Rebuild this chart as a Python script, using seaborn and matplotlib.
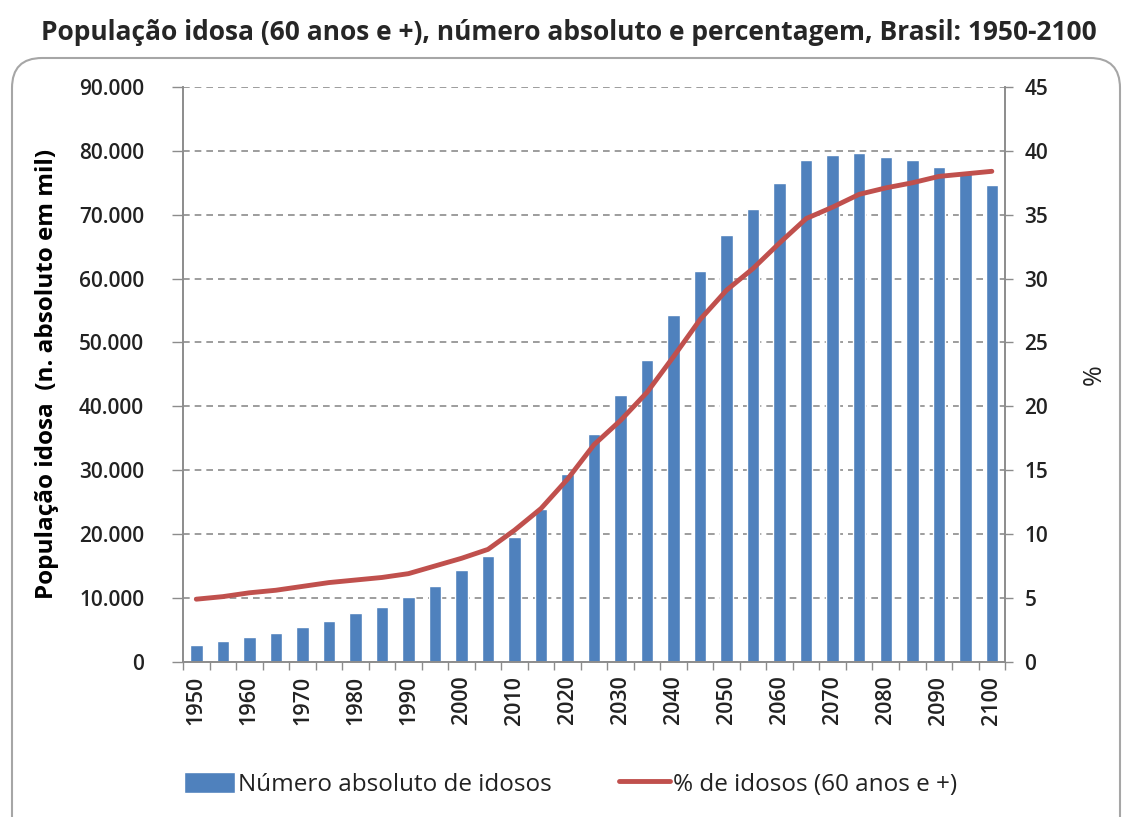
import matplotlib
matplotlib.use("Agg")
import matplotlib.pyplot as plt
from matplotlib.patches import FancyBboxPatch
from matplotlib.ticker import FuncFormatter, MultipleLocator
import seaborn as sns
import pandas as pd
import numpy as np

# dados (população idosa em mil e % de idosos)
anos = [1950, 1955, 1960, 1965, 1970, 1975, 1980, 1985, 1990, 1995,
        2000, 2005, 2010, 2015, 2020, 2025, 2030, 2035, 2040, 2045,
        2050, 2055, 2060, 2065, 2070, 2075, 2080, 2085, 2090, 2095, 2100]
idosos_mil = [2600, 3300, 3900, 4500, 5500, 6400, 7700, 8600, 10200, 11800,
              14300, 16500, 19600, 24000, 29400, 35600, 41700, 47300, 54300, 61200,
              66800, 70900, 75000, 78500, 79400, 79700, 79100, 78500, 77500, 76600, 74700]
pct_idosos = [4.9, 5.1, 5.4, 5.6, 5.9, 6.2, 6.4, 6.6, 6.9, 7.5,
              8.1, 8.8, 10.3, 12.0, 14.3, 17.0, 18.9, 21.1, 23.9, 26.8,
              29.1, 30.8, 32.8, 34.7, 35.6, 36.6, 37.1, 37.5, 38.0, 38.2, 38.4]

titulo = "População idosa (60 anos e +), número absoluto e percentagem, Brasil: 1950-2100"
label_barras = "Número absoluto de idosos"
label_linha = "% de idosos (60 anos e +)"

df = pd.DataFrame({"ano": [str(a) for a in anos], "idosos": idosos_mil,
                   "pct": pct_idosos, "pos": np.arange(len(anos))})

sns.set_theme(style="white")
plt.rcParams["font.family"] = ["Open Sans", "DejaVu Sans"]
cor_texto = "#222222"
cor_eixo = "#8c8c8c"

fig = plt.figure(figsize=(11.23, 8.17), dpi=100)
ax = fig.add_axes([0.163, 0.190, 0.732, 0.7035])

sns.barplot(data=df, x="ano", y="idosos", color="#4F81BD", width=0.47,
            saturation=1, ax=ax, label=label_barras)

ax2 = ax.twinx()
sns.lineplot(data=df, x="pos", y="pct", color="#C0504D", linewidth=3.5,
             ax=ax2, label=label_linha)

# eixos
ax.set_ylim(0, 90000)
ax2.set_ylim(0, 45)
ax.set_xlim(-0.5, len(anos) - 0.5)
ax.yaxis.set_major_locator(MultipleLocator(10000))
ax2.yaxis.set_major_locator(MultipleLocator(5))
ax.yaxis.set_major_formatter(FuncFormatter(lambda v, p: f"{int(v):,}".replace(",", ".")))

ax.set_xticks(range(0, len(anos), 2))
ax.set_xticklabels([str(a) for a in anos[::2]], rotation=90)
ax.set_xticks(np.arange(-0.5, len(anos), 1), minor=True)
ax.tick_params(axis="x", which="major", length=0, pad=10, labelsize=15.5, labelcolor=cor_texto)
ax.tick_params(axis="x", which="minor", length=6, width=1, color=cor_eixo, direction="out", bottom=True)
ax.tick_params(axis="y", length=8, width=1, color=cor_eixo, direction="out", left=True,
               labelsize=15, labelcolor=cor_texto, pad=20)
ax2.tick_params(axis="y", length=6, width=1, color=cor_eixo, direction="out", right=True,
                labelsize=15, labelcolor=cor_texto, pad=8)
for t in ax.get_xticklabels() + ax.get_yticklabels() + ax2.get_yticklabels():
    t.set_fontweight(600)

ax.grid(axis="y", color="#8c8c8c", linestyle=(0, (4, 3)), linewidth=1.2)
ax.set_axisbelow(True)

for a in (ax, ax2):
    a.spines["top"].set_visible(False)
    for s in ("left", "right", "bottom"):
        a.spines[s].set_color(cor_eixo)
        a.spines[s].set_linewidth(1.2)

ax.set_xlabel("")
ax.set_ylabel("População idosa  (n. absoluto em mil)", fontsize=17.5, fontweight="bold",
              color="black", labelpad=14)
ax2.set_ylabel("%", fontsize=18, color=cor_texto, labelpad=24)

# legenda única embaixo
h1, l1 = ax.get_legend_handles_labels()
h2, l2 = ax2.get_legend_handles_labels()
if ax2.get_legend():
    ax2.get_legend().remove()
fig.legend(h1 + h2, l1 + l2, loc="center", bbox_to_anchor=(0.508, 0.04), ncol=2,
           frameon=False, fontsize=17.5, handlelength=2.1, handleheight=1.0,
           handletextpad=0.1, columnspacing=2.8, labelcolor=cor_texto)
if ax.get_legend():
    ax.get_legend().remove()

fig.text(0.507, 0.96, titulo, ha="center", va="center", fontsize=19, fontweight="bold")

# moldura arredondada
moldura = FancyBboxPatch((12, -30), 1108, 789, boxstyle="round,pad=0,rounding_size=30",
                         transform=None, facecolor="none", edgecolor="#a6a6a6", linewidth=1.5)
fig.add_artist(moldura)

fig.savefig("out.png", dpi=100)
